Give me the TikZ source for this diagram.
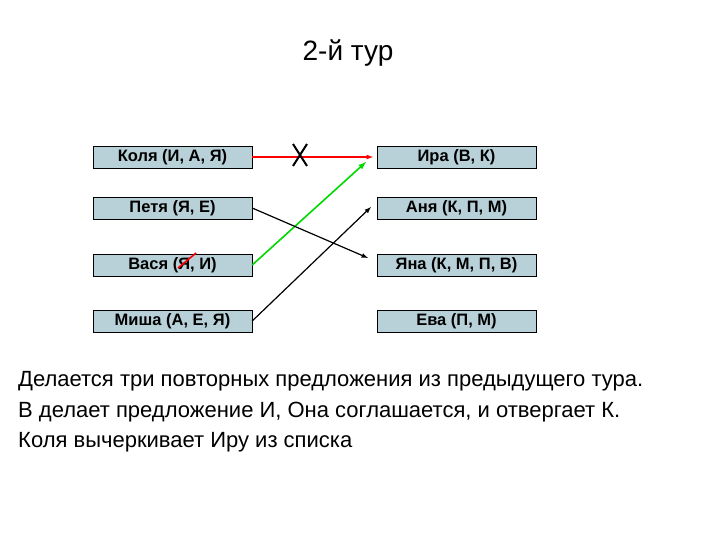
\documentclass[tikz,border=0pt]{standalone}
\usepackage{fontspec}
\setmainfont{Liberation Sans}
\begin{document}
\begin{tikzpicture}[x=1pt,y=-1pt,
 box/.style={draw=black,fill={rgb,255:red,184;green,208;blue,216},minimum width=159pt,minimum height=22pt,inner sep=0pt,font=\fontsize{16.5}{18}\selectfont\bfseries},
 arr/.style={-latex,line width=1.2pt},
 body/.style={anchor=west,inner sep=0pt,font=\fontsize{22}{26}\selectfont}]
\useasboundingbox (0,0) rectangle (720,540);
\node[font=\fontsize{28}{32}\selectfont] (title) at (348,53) {2-й тур};
\node[box] (k) at (172.5,157) {Коля (И, А, Я)};
\node[box] (p) at (172.5,208) {Петя (Я, Е)};
\node[box] (v) at (172.5,265) {Вася (Я, И)};
\node[box] (m) at (172.5,321) {Миша (А, Е, Я)};
\node[box] (i) at (456.5,157) {Ира (В, К)};
\node[box] (a) at (456.5,208) {Аня (К, П, М)};
\node[box] (ya) at (456.5,265) {Яна (К, М, П, В)};
\node[box] (e) at (456.5,321) {Ева (П, М)};
\coordinate (ki) at (373,157);
\coordinate (vi) at (366,162);
\coordinate (pya) at (368,258);
\coordinate (ma) at (371,207);
\draw[arr,red] (k.east) -- (ki);
\draw[arr,green!85!black,line width=1.6pt] (v.east) -- (vi);
\draw[arr] (p.east) -- (pya);
\draw[arr] (m.east) -- (ma);
\draw[line width=2pt] (293,144) -- (307,166) (307,144) -- (293,166);
\draw[red,line width=1.6pt] (178,268) -- (196,253);
\node[body] (t1) at (18,381) {Делается три повторных предложения из предыдущего тура.};
\node[body] (t2) at (18,412) {В делает предложение И, Она соглашается, и отвергает К.};
\node[body] (t3) at (18,442) {Коля вычеркивает Иру из списка};
\end{tikzpicture}
\end{document}
